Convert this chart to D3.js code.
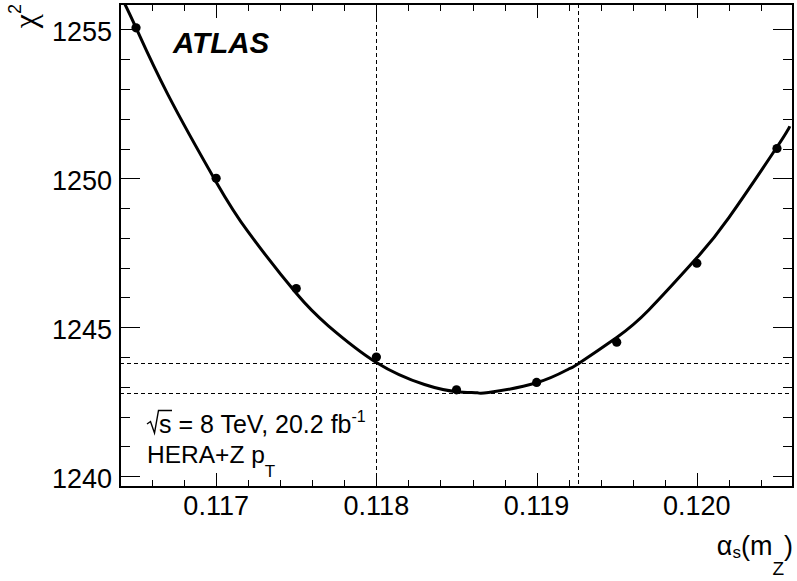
<!DOCTYPE html>
<html>
<head>
<meta charset="utf-8">
<script src="https://cdn.jsdelivr.net/npm/d3@7"></script>
<style>
  html, body { margin: 0; padding: 0; background: #fff; }
  svg { display: block; }
  text { font-family: "Liberation Sans", Arial, Helvetica, sans-serif; fill: #000; }
</style>
</head>
<body>
<svg id="chart" width="797" height="581"></svg>
<script>
// ---- data ----
const alphaPoints = [0.1165, 0.1170, 0.1175, 0.1180, 0.1185, 0.1190, 0.1195, 0.1200, 0.1205];
const chi2Points  = [1255.05, 1250.0, 1246.3, 1244.0, 1242.9, 1243.15, 1244.5, 1247.15, 1251.0];

// fitted curve
const curveAlpha = [0.11643, 0.1165, 0.1167, 0.1170, 0.1172, 0.1175, 0.1177, 0.1180, 0.1183, 0.1185, 0.11863, 0.1187, 0.1190, 0.1192, 0.11926, 0.1195, 0.1197, 0.1200, 0.1202, 0.1205, 0.12058];
const curveChi2  = [1255.85, 1255.05, 1252.8, 1249.88, 1248.2, 1246.14, 1245.05, 1243.82, 1243.08, 1242.84, 1242.80, 1242.81, 1243.14, 1243.6, 1243.78, 1244.66, 1245.58, 1247.33, 1248.68, 1251.05, 1251.75];

// reference lines
const hLines = [1243.8, 1242.8];
const vLines = [0.1180, 0.11926];

const xDomain = [0.1164, 0.1206];
const yDomain = [1239.64, 1255.85];
const xMajorTicks = [0.117, 0.118, 0.119, 0.120];
const xTickLabels = ["0.117", "0.118", "0.119", "0.120"];
const yMajorTicks = [1240, 1245, 1250, 1255];
const yTickLabels = ["1240", "1245", "1250", "1255"];
const xMinorStep = 0.0002;
const yMinorStep = 1;

// ---- layout ----
const L = 120, R = 793, T = 4, B = 487;
const svg = d3.select("#chart");
const x = d3.scaleLinear().domain(xDomain).range([L, R]);
const y = d3.scaleLinear().domain(yDomain).range([B, T]);

const xMinor = d3.range(Math.round(xDomain[0] / xMinorStep), Math.round(xDomain[1] / xMinorStep) + 1).map(i => +(i * xMinorStep).toFixed(5));
const yMinor = d3.range(Math.ceil(yDomain[0]), Math.floor(yDomain[1]) + 1, yMinorStep);

const isMajorX = v => xMajorTicks.some(m => Math.abs(m - v) < 1e-7);
const isMajorY = v => yMajorTicks.includes(v);

const tickG = svg.append("g").attr("stroke", "#000").attr("stroke-width", 1);
xMinor.forEach(v => {
  const len = isMajorX(v) ? 14 : 7;
  const px = Math.round(x(v)) + 0.5;
  tickG.append("line").attr("x1", px).attr("x2", px).attr("y1", B).attr("y2", B - len);
  tickG.append("line").attr("x1", px).attr("x2", px).attr("y1", T).attr("y2", T + len);
});
yMinor.forEach(v => {
  const len = isMajorY(v) ? 20 : 10;
  const py = Math.round(y(v)) + 0.5;
  tickG.append("line").attr("x1", L).attr("x2", L + len).attr("y1", py).attr("y2", py);
  tickG.append("line").attr("x1", R).attr("x2", R - len).attr("y1", py).attr("y2", py);
});

// dashed reference lines
const dashG = svg.append("g").attr("stroke", "#000").attr("stroke-width", 1).attr("stroke-dasharray", "4,3");
hLines.forEach(v => {
  const py = Math.round(y(v)) + 0.5;
  dashG.append("line").attr("x1", L).attr("x2", R).attr("y1", py).attr("y2", py);
});
vLines.forEach(v => {
  const px = Math.round(x(v)) + 0.5;
  dashG.append("line").attr("x1", px).attr("x2", px).attr("y1", T).attr("y2", B);
});

// curve
const curveData = curveAlpha.map((a, i) => [a, curveChi2[i]]);
svg.append("defs").append("clipPath").attr("id", "clip")
  .append("rect").attr("x", L).attr("y", T).attr("width", R - L).attr("height", B - T);
svg.append("path")
  .datum(curveData)
  .attr("clip-path", "url(#clip)")
  .attr("fill", "none")
  .attr("stroke", "#000")
  .attr("stroke-width", 3)
  .attr("d", d3.line().x(d => x(d[0])).y(d => y(d[1])).curve(d3.curveNatural));

// points
svg.append("g").selectAll("circle")
  .data(alphaPoints.map((a, i) => [a, chi2Points[i]]))
  .join("circle")
  .attr("cx", d => x(d[0]))
  .attr("cy", d => y(d[1]))
  .attr("r", 4.6)
  .attr("fill", "#000");

// frame
svg.append("rect").attr("x", L).attr("y", T).attr("width", R - L).attr("height", B - T)
  .attr("fill", "none").attr("stroke", "#000").attr("stroke-width", 2);

// tick labels
svg.append("g").selectAll("text").data(xMajorTicks).join("text")
  .attr("x", d => x(d)).attr("y", 515)
  .attr("text-anchor", "middle").attr("font-size", 27)
  .text((d, i) => xTickLabels[i]);
svg.append("g").selectAll("text").data(yMajorTicks).join("text")
  .attr("x", 112).attr("y", d => y(d) + 12)
  .attr("text-anchor", "end").attr("font-size", 27)
  .text((d, i) => yTickLabels[i]);

// axis titles
const yt = svg.append("text")
  .attr("transform", "translate(36,4) rotate(-90)")
  .attr("text-anchor", "end").attr("font-size", 32)
  .style("font-family", "'Liberation Serif', 'DejaVu Serif', serif");
yt.append("tspan").text("χ");
yt.append("tspan").attr("font-size", 18).attr("dy", -15)
  .style("font-family", "'Liberation Sans', Arial, sans-serif").text("2");

const xt = svg.append("text").attr("x", 793).attr("y", 555)
  .attr("text-anchor", "end").attr("font-size", 27);
xt.append("tspan").text("α");
xt.append("tspan").attr("font-size", 17).attr("dy", 3).text("s");
xt.append("tspan").attr("dy", -3).text("(m");
xt.append("tspan").attr("font-size", 19).attr("dy", 20).text("Z");
xt.append("tspan").attr("dy", -20).text(")");

// ATLAS label
svg.append("text").attr("x", 173).attr("y", 53)
  .attr("font-size", 29.5).attr("font-weight", "bold").attr("font-style", "italic")
  .text("ATLAS");

// info text
svg.append("path").attr("d", "M147,424 L150.5,421.5 L154.5,433 L158.5,410.5 L172,410.5")
  .attr("fill", "none").attr("stroke", "#000").attr("stroke-width", 1.4);
const t1 = svg.append("text").attr("x", 159).attr("y", 433).attr("font-size", 25);
t1.append("tspan").text("s = 8 TeV, 20.2 fb");
t1.append("tspan").attr("font-size", 16).attr("dy", -11).text("-1");

const t2 = svg.append("text").attr("x", 147).attr("y", 463).attr("font-size", 24.5);
t2.append("tspan").text("HERA+Z p");
t2.append("tspan").attr("font-size", 17).attr("dy", 14).text("T");
</script>
</body>
</html>
